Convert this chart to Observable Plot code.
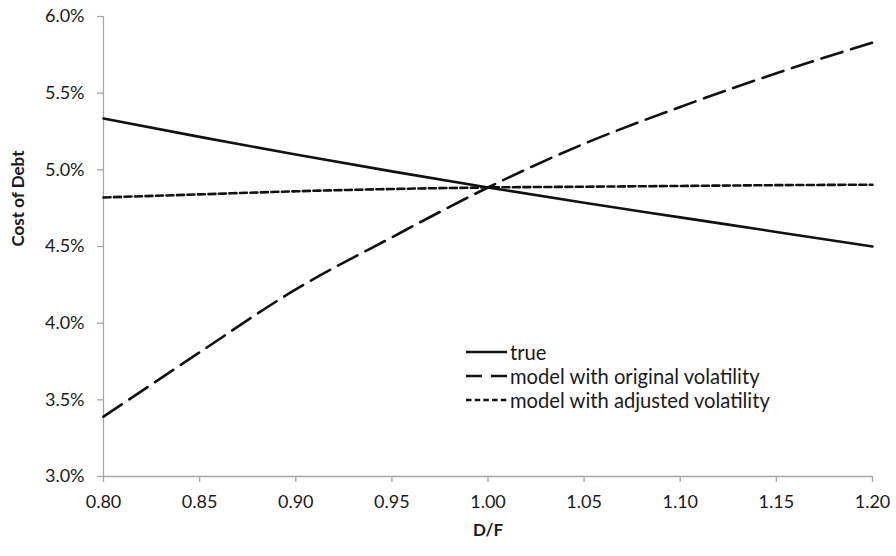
<!DOCTYPE html>
<html>
<head>
<meta charset="utf-8">
<script src="https://cdn.jsdelivr.net/npm/d3@7"></script>
<script src="https://cdn.jsdelivr.net/npm/@observablehq/plot@0.6"></script>
<style>
  html, body { margin: 0; padding: 0; background: #fff; }
  #wrap { position: relative; width: 896px; height: 556px; font-family: Lato, "Open Sans", sans-serif; }
  #legend { position: absolute; left: 466px; top: 340px; font-size: 20.2px; color: #1a1a1a; }
  #legend .row { display: flex; align-items: center; height: 24px; }
  #legend svg { margin-right: 3px; }
</style>
</head>
<body>
<div id="wrap"><div id="legend"></div></div>
<script>
const dfValues = [0.80, 0.85, 0.90, 0.95, 1.00, 1.05, 1.10, 1.15, 1.20];
const trueCost = [0.05335, 0.05215, 0.05100, 0.04990, 0.04885, 0.04785, 0.04690, 0.04595, 0.04500];
const originalVolCost = [0.0339, 0.0381, 0.0422, 0.0456, 0.04885, 0.0517, 0.0541, 0.0563, 0.0583];
const adjustedVolCost = [0.0482, 0.0484, 0.0486, 0.04875, 0.04885, 0.0489, 0.04895, 0.0490, 0.04903];
const seriesNames = ["true", "model with original volatility", "model with adjusted volatility"];
const xTicks = [0.80, 0.85, 0.90, 0.95, 1.00, 1.05, 1.10, 1.15, 1.20];
const yTicks = [0.030, 0.035, 0.040, 0.045, 0.050, 0.055, 0.060];
const xTitle = "D/F";
const yTitle = "Cost of Debt";

const dashes = ["none", "22,9", "7,3.5"];
const seriesValues = [trueCost, originalVolCost, adjustedVolCost];
const rows = [];
seriesNames.forEach((name, i) => dfValues.forEach((x, j) => rows.push({series: name, x, y: seriesValues[i][j]})));

const axisGray = "#a6a6a6";
const ink = "#1a1a1a";
const chart = Plot.plot({
  width: 896,
  height: 556,
  marginTop: 16,
  marginRight: 24,
  marginBottom: 80,
  marginLeft: 103,
  style: {fontFamily: "Lato, 'Open Sans', sans-serif", color: ink, background: "#fff", overflow: "visible"},
  x: {domain: [0.8, 1.2]},
  y: {domain: [0.03, 0.06]},
  marks: [
    Plot.ruleX([0.8], {stroke: axisGray, strokeWidth: 1.3}),
    Plot.ruleY([0.03], {stroke: axisGray, strokeWidth: 1.3}),
    Plot.axisY({ticks: yTicks, tickSize: 6, tickFormat: () => "", stroke: axisGray, strokeWidth: 1.3, label: null}),
    Plot.axisY({ticks: yTicks, tickSize: 0, tickPadding: 19, tickFormat: d3.format(".1%"), fill: ink,
      fontSize: 18, label: null}),
    Plot.axisX({ticks: xTicks, tickSize: 6, tickFormat: () => "", stroke: axisGray, strokeWidth: 1.3, label: null}),
    Plot.axisX({ticks: xTicks, tickSize: 0, tickPadding: 19, tickFormat: d3.format(".2f"), fill: ink,
      fontSize: 18, label: null}),
    Plot.text([yTitle], {frameAnchor: "left", rotate: -90, dx: -85, fontWeight: "bold", fontSize: 17, fill: ink}),
    Plot.text([xTitle], {frameAnchor: "bottom", dy: 59, fontWeight: "bold", fontSize: 17, fill: ink}),
    ...seriesNames.map((name, i) =>
      Plot.line(rows.filter(d => d.series === name), {x: "x", y: "y", curve: "monotone-x", stroke: "#111", strokeWidth: 2.6,
        strokeDasharray: dashes[i]}))
  ]
});
const wrap = document.getElementById("wrap");
wrap.insertBefore(chart, wrap.firstChild);

const legend = document.getElementById("legend");
seriesNames.forEach((name, i) => {
  const row = document.createElement("div");
  row.className = "row";
  const s = d3.create("svg").attr("width", 41).attr("height", 10);
  s.append("line").attr("x1", 0).attr("x2", 41).attr("y1", 5).attr("y2", 5)
    .attr("stroke", "#111").attr("stroke-width", 2.6)
    .attr("stroke-dasharray", i === 0 ? null : (i === 1 ? "16,9" : "5.5,3.2"));
  row.appendChild(s.node());
  const t = document.createElement("span");
  t.textContent = name;
  row.appendChild(t);
  legend.appendChild(row);
});
</script>
</body>
</html>
